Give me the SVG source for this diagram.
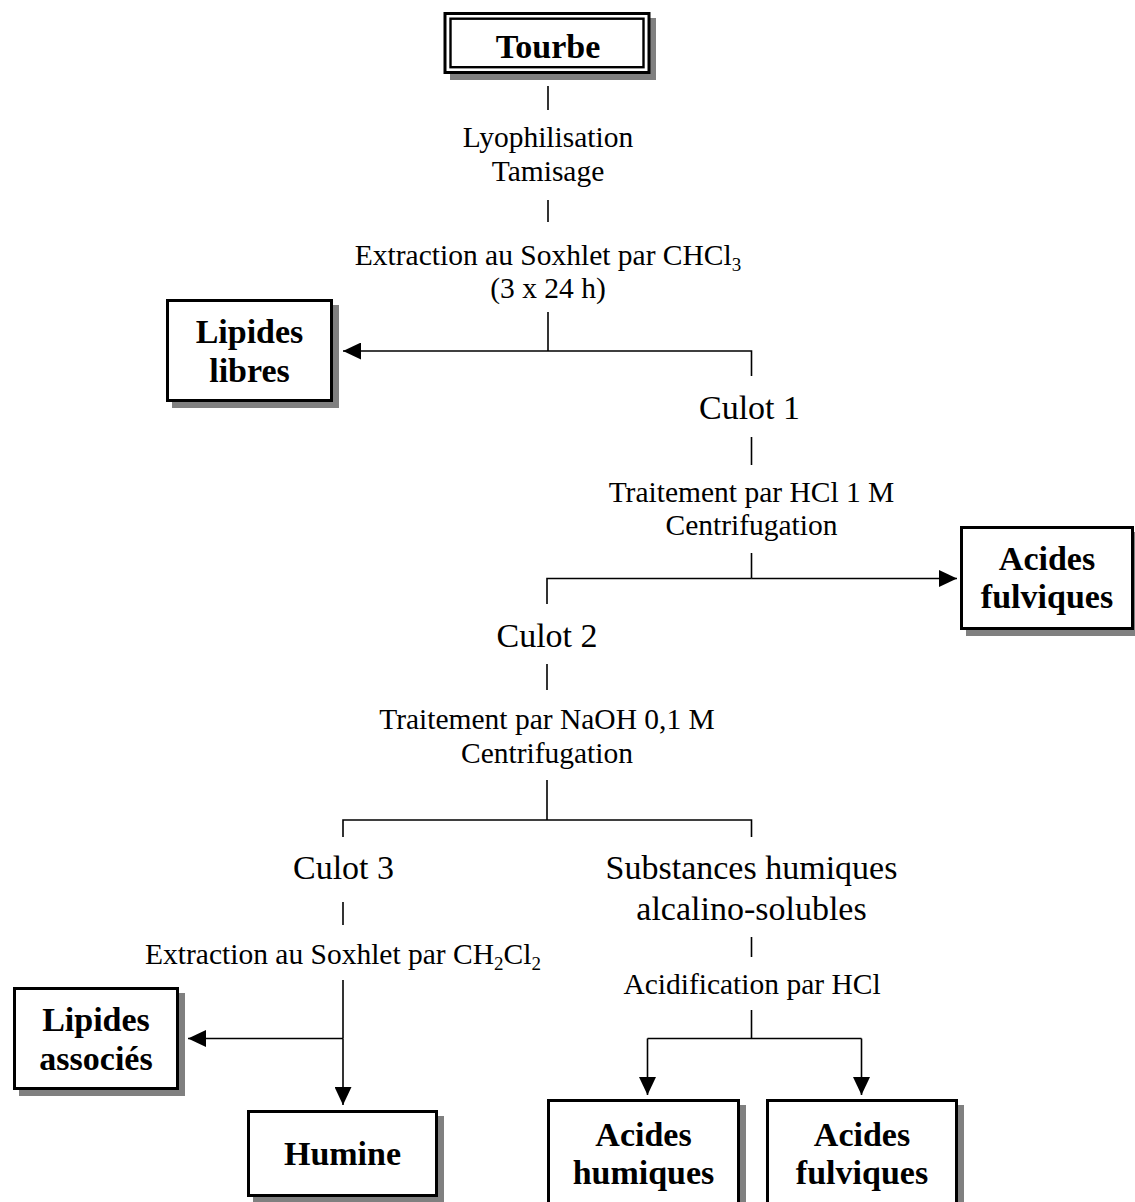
<svg xmlns="http://www.w3.org/2000/svg" width="1135" height="1202" viewBox="0 0 1135 1202">
<style>
  .bg{fill:#ffffff}
  .box{fill:#ffffff;stroke:#000;stroke-width:3}
  .shadow{fill:#808080;stroke:none}
  .line{fill:none;stroke:#000;stroke-width:1.6}
  .arrow{fill:none;stroke:#000;stroke-width:1.6;marker-end:url(#ah)}
  .b{font-family:"Liberation Serif","Times New Roman",serif;font-weight:bold;font-size:34px;text-anchor:middle;fill:#000}
  .t{font-family:"Liberation Serif","Times New Roman",serif;font-size:34px;text-anchor:middle;fill:#000}
  .s{font-family:"Liberation Serif","Times New Roman",serif;font-size:29.5px;text-anchor:middle;fill:#000}
  .sub{font-size:19px}
</style>
<defs>
  <marker id="ah" markerUnits="userSpaceOnUse" markerWidth="18" markerHeight="17" refX="18" refY="8.5" orient="auto">
    <path d="M0,0 L18,8.5 L0,17 z" fill="#000"/>
  </marker>
</defs>
<rect class="bg" x="0" y="0" width="1135" height="1202"/>

<g id="connectors">
  <line class="line" x1="548" y1="86" x2="548" y2="110"/>
  <line class="line" x1="548" y1="200" x2="548" y2="222"/>
  <line class="line" x1="548" y1="312" x2="548" y2="351"/>
  <polyline class="line" points="751.5,376 751.5,351 548,351"/>
  <line class="arrow" x1="548" y1="351" x2="343" y2="351"/>
  <line class="line" x1="751.5" y1="437" x2="751.5" y2="465"/>
  <line class="line" x1="751.5" y1="553" x2="751.5" y2="578.5"/>
  <polyline class="line" points="547,604 547,578.5 751.5,578.5"/>
  <line class="arrow" x1="751.5" y1="578.5" x2="957" y2="578.5"/>
  <line class="line" x1="547" y1="664" x2="547" y2="690"/>
  <line class="line" x1="547" y1="780" x2="547" y2="820"/>
  <polyline class="line" points="343,837 343,820 751.5,820 751.5,837"/>
  <line class="line" x1="343" y1="902" x2="343" y2="925"/>
  <line class="line" x1="343" y1="980" x2="343" y2="1038.5"/>
  <line class="arrow" x1="343" y1="1038.5" x2="188" y2="1038.5"/>
  <line class="arrow" x1="343" y1="1038.5" x2="343" y2="1105"/>
  <line class="line" x1="751.5" y1="937" x2="751.5" y2="957"/>
  <line class="line" x1="751.5" y1="1010" x2="751.5" y2="1038.5"/>
  <line class="line" x1="647.5" y1="1038.5" x2="861.5" y2="1038.5"/>
  <line class="arrow" x1="647.5" y1="1038.5" x2="647.5" y2="1095"/>
  <line class="arrow" x1="861.5" y1="1038.5" x2="861.5" y2="1095"/>
</g>

<g id="tourbe">
  <rect class="shadow" x="450" y="18" width="206" height="62"/>
  <rect x="445" y="13.5" width="204" height="59" fill="#fff" stroke="#000" stroke-width="3"/>
  <rect x="450.5" y="18.7" width="193" height="48.5" fill="none" stroke="#000" stroke-width="2.4"/>
  <text class="b" x="548" y="58">Tourbe</text>
</g>

<g id="step1">
  <text class="s" x="548" y="147">Lyophilisation</text>
  <text class="s" x="548" y="181">Tamisage</text>
</g>

<g id="step2">
  <text class="s" x="548" y="265">Extraction au Soxhlet par CHCl<tspan class="sub" dy="6">3</tspan></text>
  <text class="s" x="548" y="298">(3 x 24 h)</text>
</g>

<g id="lipides-libres">
  <rect class="shadow" x="172" y="305" width="167" height="103"/>
  <rect class="box" x="167.5" y="300.5" width="164" height="100"/>
  <text class="b" x="249.5" y="343">Lipides</text>
  <text class="b" x="249.5" y="382">libres</text>
</g>

<g id="culot1">
  <text class="t" x="749.5" y="419">Culot 1</text>
</g>

<g id="step3">
  <text class="s" x="751.5" y="502">Traitement par HCl 1 M</text>
  <text class="s" x="751.5" y="535">Centrifugation</text>
</g>

<g id="acides-fulviques-1">
  <rect class="shadow" x="966" y="532" width="175" height="104"/>
  <rect class="box" x="961.5" y="527.5" width="171" height="101"/>
  <text class="b" x="1047" y="570">Acides</text>
  <text class="b" x="1047" y="608">fulviques</text>
</g>

<g id="culot2">
  <text class="t" x="547" y="647">Culot 2</text>
</g>

<g id="step4">
  <text class="s" x="547" y="729">Traitement par NaOH 0,1 M</text>
  <text class="s" x="547" y="763">Centrifugation</text>
</g>

<g id="culot3">
  <text class="t" x="343.5" y="879">Culot 3</text>
</g>

<g id="substances">
  <text class="t" x="751.5" y="879">Substances humiques</text>
  <text class="t" x="751.5" y="920">alcalino-solubles</text>
</g>

<g id="step5">
  <text class="s" x="343" y="964">Extraction au Soxhlet par CH<tspan class="sub" dy="6">2</tspan><tspan dy="-6">Cl</tspan><tspan class="sub" dy="6">2</tspan></text>
</g>

<g id="step6">
  <text class="s" x="752" y="994">Acidification par HCl</text>
</g>

<g id="lipides-associes">
  <rect class="shadow" x="19" y="993" width="166" height="103"/>
  <rect class="box" x="14.5" y="988.5" width="163" height="100"/>
  <text class="b" x="96" y="1031">Lipides</text>
  <text class="b" x="96" y="1070">associés</text>
</g>

<g id="humine">
  <rect class="shadow" x="253" y="1116" width="191" height="87"/>
  <rect class="box" x="248.5" y="1111.5" width="188" height="84"/>
  <text class="b" x="342.5" y="1165">Humine</text>
</g>

<g id="acides-humiques">
  <rect class="shadow" x="553" y="1105" width="193" height="110"/>
  <rect class="box" x="548.5" y="1100.5" width="190" height="110"/>
  <text class="b" x="643.5" y="1146">Acides</text>
  <text class="b" x="643.5" y="1184">humiques</text>
</g>

<g id="acides-fulviques-2">
  <rect class="shadow" x="772" y="1105" width="192" height="110"/>
  <rect class="box" x="767.5" y="1100.5" width="189" height="110"/>
  <text class="b" x="862" y="1146">Acides</text>
  <text class="b" x="862" y="1184">fulviques</text>
</g>
</svg>
